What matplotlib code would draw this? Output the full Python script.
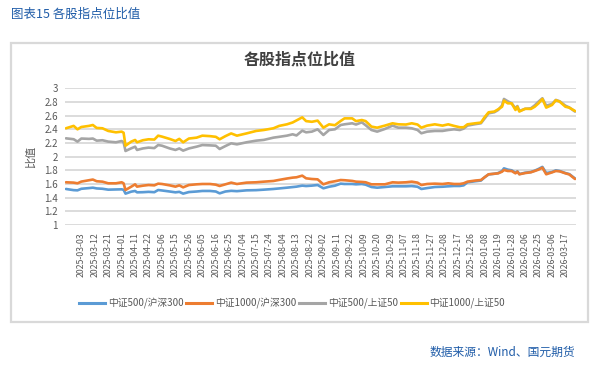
import numpy as np
import matplotlib.pyplot as plt
from matplotlib.lines import Line2D
from matplotlib.patches import Rectangle

plt.rcParams["font.family"] = ["Noto Sans CJK SC", "DejaVu Sans"]

# 0.) Data
# day_idx: trading-day number of each sampled point (0 = first trading day shown)

day_idx = [
    0, 4, 6, 8, 12, 14, 16, 19, 22, 26,
    29, 30, 31, 34, 36, 37, 40, 43, 46, 48,
    50, 54, 57, 59, 61, 64, 68, 71, 75, 78,
    80, 83, 86, 89, 94, 99, 103, 108, 111, 115,
    118, 120, 123, 125, 128, 131, 134, 137, 140, 143,
    145, 149, 151, 154, 156, 159, 162, 166, 170, 173,
    177, 180, 183, 185, 188, 192, 196, 199, 202, 205,
    207, 209, 213, 216, 218, 220, 223, 225, 227, 228,
    230, 232, 234, 235, 236, 239, 242, 244, 246, 248,
    250, 253, 255, 257, 260, 262, 265,
]

zz500_hs300 = [
    1.527, 1.51, 1.507, 1.53, 1.54, 1.546, 1.535, 1.53, 1.517, 1.52,
    1.522, 1.515, 1.459, 1.488, 1.498, 1.478, 1.48, 1.485, 1.48, 1.512,
    1.505, 1.49, 1.478, 1.485, 1.459, 1.482, 1.49, 1.498, 1.498, 1.49,
    1.463, 1.49, 1.50, 1.495, 1.507, 1.51, 1.517, 1.527, 1.535, 1.546,
    1.555, 1.561, 1.576, 1.57, 1.576, 1.585, 1.537, 1.56, 1.575, 1.605,
    1.60, 1.60, 1.595, 1.60, 1.59, 1.556, 1.546, 1.556, 1.566, 1.566,
    1.566, 1.57, 1.56, 1.527, 1.54, 1.556, 1.56, 1.566, 1.571, 1.571,
    1.58, 1.625, 1.64, 1.65, 1.70, 1.74, 1.75, 1.76, 1.79, 1.829,
    1.81, 1.80, 1.765, 1.785, 1.745, 1.765, 1.775, 1.795, 1.82, 1.85,
    1.76, 1.775, 1.80, 1.79, 1.76, 1.745, 1.68,
]

zz1000_hs300 = [
    1.625, 1.62, 1.61, 1.635, 1.655, 1.665, 1.64, 1.634, 1.61, 1.61,
    1.625, 1.61, 1.512, 1.561, 1.595, 1.561, 1.575, 1.585, 1.58, 1.605,
    1.60, 1.58, 1.561, 1.58, 1.551, 1.585, 1.595, 1.60, 1.60, 1.59,
    1.571, 1.595, 1.62, 1.60, 1.62, 1.625, 1.634, 1.644, 1.66, 1.68,
    1.693, 1.698, 1.722, 1.683, 1.673, 1.668, 1.595, 1.625, 1.64, 1.658,
    1.655, 1.645, 1.634, 1.63, 1.625, 1.595, 1.595, 1.595, 1.625, 1.62,
    1.625, 1.634, 1.62, 1.585, 1.60, 1.605, 1.60, 1.61, 1.60, 1.60,
    1.61, 1.634, 1.65, 1.658, 1.70, 1.742, 1.75, 1.756, 1.78, 1.805,
    1.79, 1.79, 1.756, 1.78, 1.742, 1.76, 1.771, 1.79, 1.81, 1.839,
    1.742, 1.77, 1.79, 1.785, 1.756, 1.74, 1.673,
]

zz500_sz50 = [
    2.268, 2.255, 2.22, 2.265, 2.26, 2.265, 2.234, 2.24, 2.22, 2.21,
    2.229, 2.21, 2.083, 2.122, 2.146, 2.098, 2.12, 2.132, 2.125, 2.17,
    2.16, 2.12, 2.098, 2.12, 2.088, 2.12, 2.146, 2.17, 2.165, 2.16,
    2.112, 2.155, 2.195, 2.18, 2.21, 2.234, 2.245, 2.278, 2.29, 2.307,
    2.327, 2.31, 2.38, 2.356, 2.366, 2.40, 2.317, 2.39, 2.40, 2.463,
    2.473, 2.488, 2.47, 2.502, 2.46, 2.39, 2.366, 2.405, 2.454, 2.424,
    2.424, 2.415, 2.39, 2.342, 2.366, 2.376, 2.376, 2.39, 2.40, 2.39,
    2.41, 2.454, 2.475, 2.488, 2.56, 2.634, 2.65, 2.683, 2.75, 2.844,
    2.81, 2.78, 2.707, 2.74, 2.668, 2.70, 2.707, 2.75, 2.805, 2.854,
    2.746, 2.77, 2.83, 2.81, 2.746, 2.72, 2.659,
]

zz1000_sz50 = [
    2.415, 2.45, 2.40, 2.434, 2.45, 2.463, 2.42, 2.415, 2.376, 2.356,
    2.366, 2.35, 2.16, 2.22, 2.244, 2.21, 2.24, 2.254, 2.25, 2.307,
    2.293, 2.259, 2.229, 2.26, 2.21, 2.265, 2.278, 2.307, 2.30, 2.29,
    2.254, 2.30, 2.34, 2.307, 2.34, 2.376, 2.39, 2.415, 2.45, 2.473,
    2.50, 2.53, 2.575, 2.52, 2.51, 2.527, 2.424, 2.473, 2.46, 2.522,
    2.56, 2.56, 2.52, 2.536, 2.52, 2.44, 2.424, 2.454, 2.488, 2.473,
    2.47, 2.488, 2.47, 2.424, 2.454, 2.473, 2.454, 2.473, 2.45, 2.43,
    2.43, 2.473, 2.488, 2.498, 2.58, 2.649, 2.66, 2.693, 2.73, 2.82,
    2.78, 2.78, 2.683, 2.73, 2.66, 2.70, 2.698, 2.73, 2.78, 2.844,
    2.717, 2.756, 2.825, 2.805, 2.73, 2.717, 2.668,
]

# every 7th trading day, starting at day 8
tick_labels = [
    "2025-03-03", "2025-03-12", "2025-03-21", "2025-04-01", "2025-04-11",
    "2025-04-22", "2025-05-06", "2025-05-15", "2025-05-26", "2025-06-05",
    "2025-06-16", "2025-06-25", "2025-07-04", "2025-07-15", "2025-07-24",
    "2025-08-04", "2025-08-13", "2025-08-22", "2025-09-02", "2025-09-11",
    "2025-09-22", "2025-10-09", "2025-10-20", "2025-10-29", "2025-11-07",
    "2025-11-18", "2025-11-27", "2025-12-08", "2025-12-17", "2025-12-26",
    "2026-01-08", "2026-01-19", "2026-01-28", "2026-02-06", "2026-02-25",
    "2026-03-06", "2026-03-17",
]
first_label_day = 8
label_step = 7
n_days = 266

series_names = ["中证500/沪深300", "中证1000/沪深300", "中证500/上证50", "中证1000/上证50"]
series_values = [zz500_hs300, zz1000_hs300, zz500_sz50, zz1000_sz50]
series_colors = ["#5B9BD5", "#ED7D31", "#A5A5A5", "#FFC000"]

# 1.) Figure

W, H = 596, 365
fig = plt.figure(figsize=(W / 100, H / 100), dpi=100)

# chart frame
fig.patches.append(Rectangle(
    (10.5 / W, 1 - 322 / H), (588 - 10.5) / W, (322 - 42.5) / H,
    transform=fig.transFigure, fill=False, edgecolor="#D9D9D9", linewidth=1.6
))

ax = fig.add_axes([65 / W, 1 - 225 / H, (576 - 65) / W, (225 - 88.3) / H])

for name, vals, color in zip(series_names, series_values, series_colors):
    ax.plot(day_idx, vals, color=color, linewidth=1.9, label=name,
            solid_joinstyle="round", solid_capstyle="round")

ax.set_ylim(1, 3)
ax.set_yticks(np.arange(1, 3.01, 0.2))
ax.set_yticklabels([f"{v:g}" for v in np.arange(1, 3.01, 0.2).round(1)])
ax.set_xlim(-0.5, n_days - 0.5)
tick_pos = [first_label_day + label_step * i for i in range(len(tick_labels))]
ax.set_xticks(tick_pos)
ax.set_xticklabels(tick_labels, rotation=90, va="top", ha="center")

ax.grid(True, axis="y", color="#D9D9D9", linewidth=1.3)
ax.set_axisbelow(True)
for s in ax.spines.values():
    s.set_visible(False)
ax.tick_params(length=0, colors="#595959", labelsize=6.3)
ax.tick_params(axis="y", pad=5, labelsize=7)
ax.tick_params(axis="x", pad=5)

# 2.) Texts

fig.text(11 / W, 1 - 14 / H, "图表15 各股指点位比值", color="#1F5CA8",
         fontsize=9, ha="left", va="center")
fig.text(300 / W, 1 - 60 / H, "各股指点位比值", color="#404040",
         fontsize=11.5, fontweight="bold", ha="center", va="center")
fig.text(31 / W, 1 - 157 / H, "比值", color="#595959", fontsize=8,
         rotation=90, ha="center", va="center")
fig.text(575 / W, 1 - 352 / H, "数据来源：Wind、国元期货", color="#1F5CA8",
         fontsize=8.5, ha="right", va="center")

handles = [Line2D([0], [0], color=c, linewidth=2.2) for c in series_colors]
fig.legend(handles, series_names, loc="center", bbox_to_anchor=(292 / W, 1 - 303 / H),
           ncol=4, frameon=False, fontsize=7, handlelength=2.7,
           handletextpad=0.25, columnspacing=0.3, labelcolor="#595959")

fig.savefig("out.png", dpi=100)
